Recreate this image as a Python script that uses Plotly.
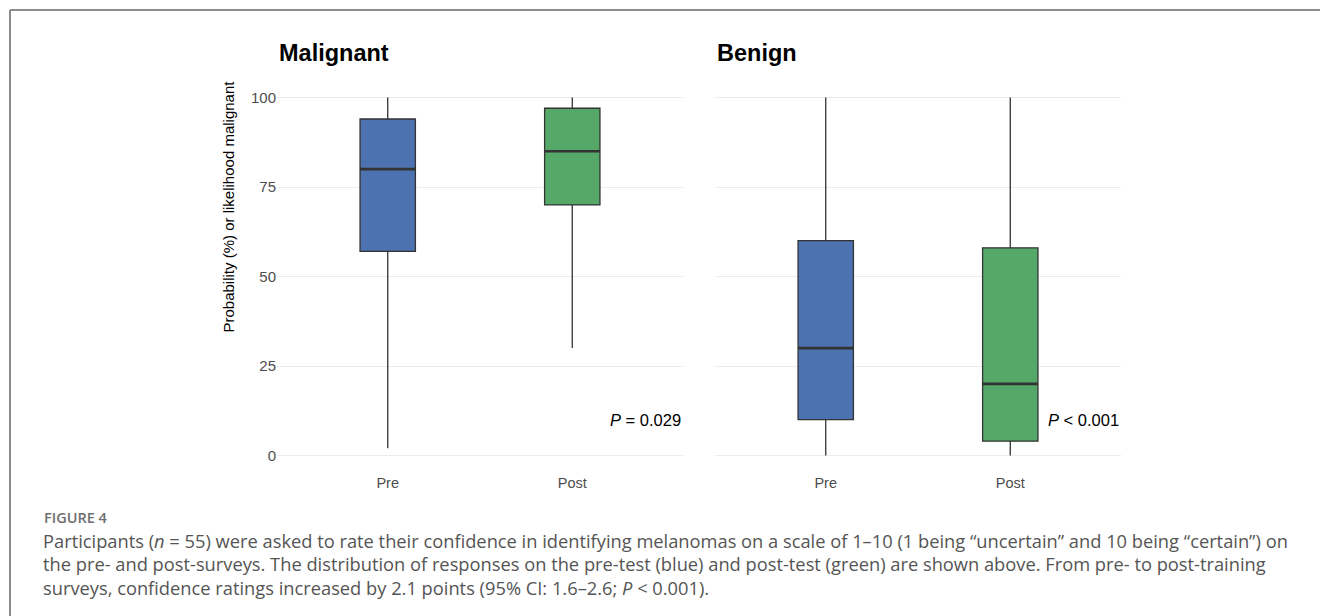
import plotly.graph_objects as go

# ---------------- data ----------------
panels = ["Malignant", "Benign"]
groups = ["Pre", "Post"]
p_labels = ["<i>P</i> = 0.029", "<i>P</i> &lt; 0.001"]

lower_whisker = {"Malignant": [2, 30], "Benign": [0, 0]}
q1_vals = {"Malignant": [57, 70], "Benign": [10, 4]}
median_vals = {"Malignant": [80, 85], "Benign": [30, 20]}
q3_vals = {"Malignant": [94, 97], "Benign": [60, 58]}
upper_whisker = {"Malignant": [100, 100], "Benign": [100, 100]}

y_ticks = [0, 25, 50, 75, 100]
p_label_y = 10

caption_head = "FIGURE 4"
caption_lines = [
    "Participants (<i>n</i> = 55) were asked to rate their confidence in identifying melanomas on a scale of 1\u201310 (1 being \u201cuncertain\u201d and 10 being \u201ccertain\u201d) on",
    "the pre- and post-surveys. The distribution of responses on the pre-test (blue) and post-test (green) are shown above. From pre- to post-training",
    "surveys, confidence ratings increased by 2.1 points (95% CI: 1.6\u20132.6; <i>P</i> &lt; 0.001).",
]

# ---------------- style ----------------
W, H = 1320, 616
colors = ["#4C72B0", "#55A868"]
box_w = 0.3
chart_font = "Liberation Sans, Arial, sans-serif"
cap_font = "Open Sans, sans-serif"

x_domains = [[277 / W, 683 / W], [715 / W, 1121 / W]]
y_domain = [1 - 473.4 / H, 1 - 79.6 / H]

fig = go.Figure()

for pi, panel in enumerate(panels):
    xa = "x" if pi == 0 else "x2"
    ya = "y" if pi == 0 else "y2"
    for gi, g in enumerate(groups):
        fig.add_trace(go.Box(
            x=[gi], q1=[q1_vals[panel][gi]], median=[median_vals[panel][gi]],
            q3=[q3_vals[panel][gi]], lowerfence=[lower_whisker[panel][gi]],
            upperfence=[upper_whisker[panel][gi]],
            width=box_w, whiskerwidth=0, boxpoints=False,
            fillcolor=colors[gi], line=dict(color="#333333", width=1.3),
            xaxis=xa, yaxis=ya, showlegend=False, hoverinfo="skip",
        ))
        # thick median line
        fig.add_trace(go.Scatter(
            x=[gi - box_w / 2, gi + box_w / 2],
            y=[median_vals[panel][gi]] * 2,
            mode="lines", line=dict(color="#333333", width=2.6),
            xaxis=xa, yaxis=ya, showlegend=False, hoverinfo="skip",
        ))
    fig.add_annotation(
        x=1.6, y=p_label_y, xref=xa, yref=ya, text=p_labels[pi],
        showarrow=False, xanchor="right", yanchor="middle",
        font=dict(family=chart_font, size=16.5, color="#000000"),
    )
    fig.add_annotation(
        x=x_domains[pi][0], y=1 - 53 / H, xref="paper", yref="paper",
        text="<b>%s</b>" % panel, showarrow=False, xanchor="left", yanchor="middle",
        font=dict(family=chart_font, size=23.5, color="#000000"),
    )

axis_common = dict(
    range=[-0.6, 1.6], tickmode="array", tickvals=[0, 1], ticktext=groups,
    showgrid=False, zeroline=False, showline=False,
    ticks="", ticklabelstandoff=-1,
    tickfont=dict(family=chart_font, size=14.5, color="#4D4D4D"),
)
yaxis_common = dict(
    range=[-5, 105], tickmode="array", tickvals=y_ticks, domain=y_domain,
    showgrid=True, gridcolor="#EBEBEB", gridwidth=1, zeroline=False, showline=False,
    ticks="",
    tickfont=dict(family=chart_font, size=15, color="#4D4D4D"),
)

fig.update_layout(
    width=W, height=H, margin=dict(l=0, r=0, t=0, b=0),
    paper_bgcolor="white", plot_bgcolor="white",
    xaxis=dict(domain=x_domains[0], anchor="y", **axis_common),
    xaxis2=dict(domain=x_domains[1], anchor="y2", **axis_common),
    yaxis=dict(anchor="x", **yaxis_common),
    yaxis2=dict(anchor="x2", showticklabels=False, **yaxis_common),
    hovermode=False,
)

# y-axis title
fig.add_annotation(
    x=228 / W, y=1 - 206.5 / H, xref="paper", yref="paper",
    text="Probability (%) or likelihood malignant", textangle=-90,
    showarrow=False, xanchor="center", yanchor="middle",
    font=dict(family=chart_font, size=15, color="#000000"),
)

# caption
fig.add_annotation(
    x=42 / W, y=1 - 517 / H, xref="paper", yref="paper", text=caption_head,
    showarrow=False, xanchor="left", yanchor="middle",
    font=dict(family=cap_font, size=14.5, color="#6E6E6E", weight=600),
)
for li, line in enumerate(caption_lines):
    fig.add_annotation(
        x=41 / W, y=1 - (540 + li * 23.5) / H, xref="paper", yref="paper", text=line,
        showarrow=False, xanchor="left", yanchor="middle",
        font=dict(family=cap_font, size=18.3, color="#555555"),
    )

# outer frame (top and left edges)
fig.add_shape(type="line", xref="paper", yref="paper", x0=10 / W, x1=1, y0=1 - 10 / H, y1=1 - 10 / H,
              line=dict(color="#8C8C8C", width=2))
fig.add_shape(type="line", xref="paper", yref="paper", x0=10 / W, x1=10 / W, y0=0, y1=1 - 10 / H,
              line=dict(color="#8C8C8C", width=2))

fig.write_html("out.html", config={"displayModeBar": False},
               post_script="document.body.style.margin='0';")
